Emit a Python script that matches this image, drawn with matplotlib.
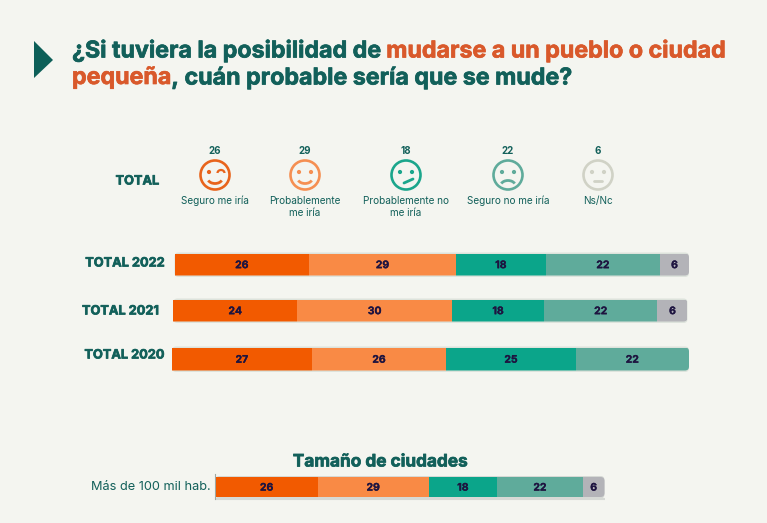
import matplotlib
matplotlib.use("Agg")
import matplotlib.pyplot as plt
import matplotlib.patheffects as pe
import numpy as np
from matplotlib.patches import Circle, Arc, FancyBboxPatch, Polygon

plt.rcParams['font.family'] = ['Inter', 'DejaVu Sans']

W, H = 767, 523
BG = "#F4F5F0"
DARK = "#12605A"
ACCENT = "#D9592B"
NAVY = "#1E1440"
colors = ["#F25A00", "#F98A45", "#0BA58A", "#5FAB9B", "#B3B3B8"]

# legend row
legend_names = ["Seguro me iría", "Probablemente\nme iría", "Probablemente no\nme iría", "Seguro no me iría", "Ns/Nc"]
legend_values = [26, 29, 18, 22, 6]
icon_colors = ["#E8641C", "#F58F52", "#1BA68C", "#5FAB9B", "#D0D2C6"]

# bar widths, labels are the rounded values
total_2022 = [26.45, 28.8, 17.7, 22.4, 5.7]
total_2021 = [24.1, 30.1, 17.9, 22.05, 5.84]
total_2020 = [27.0, 26.0, 25.0, 21.9]
city_100k = [26.4, 28.6, 17.7, 22.1, 5.6]

fig = plt.figure(figsize=(W / 100, H / 100), dpi=100, facecolor=BG)
bg = fig.add_axes([0, 0, 1, 1])
bg.set_xlim(0, W)
bg.set_ylim(H, 0)
bg.axis("off")

# the reference font is heavier than Inter bold, thicken it a bit
heavy = [pe.withStroke(linewidth=0.5, foreground=DARK)]


def draw_row(values, x0, x1, y0, y1, fs=7.5, shadow="#DDE3DC"):
    # pale edge behind the bar
    bg.add_patch(FancyBboxPatch((x0, y0 - 1), x1 - x0, y1 - y0 + 2.5,
                                boxstyle="round,pad=0,rounding_size=4",
                                fc=shadow, ec="none"))
    ax = fig.add_axes([x0 / W, 1 - y1 / H, (x1 - x0) / W, (y1 - y0) / H])
    ax.set_xlim(0, sum(values))
    ax.set_ylim(-0.5, 0.5)
    ax.axis("off")
    ax.patch.set_alpha(0)
    # rounded right end
    clip = FancyBboxPatch((-20, 0), x1 - x0 + 20, y1 - y0,
                          boxstyle="round,pad=0,rounding_size=4",
                          transform=matplotlib.transforms.Affine2D().translate(x0, H - y1),
                          fc="none", ec="none")
    left = 0
    for i, v in enumerate(values):
        b = ax.barh(0, v, left=left, height=1, color=colors[i], lw=0)[0]
        b.set_clip_path(clip)
        ax.text(left + v / 2, -0.03, str(round(v)), ha="center", va="center",
                fontsize=fs, fontweight="bold", color=NAVY,
                path_effects=[pe.withStroke(linewidth=0.2, foreground=NAVY)])
        left += v
    return ax


draw_row(total_2022, 174.5, 689, 253.5, 275.5)
draw_row(total_2021, 173.3, 687.5, 299.5, 321.5)
draw_row(total_2020, 172, 689, 347.5, 370.5)
draw_row(city_100k, 215.5, 604.5, 477, 497, shadow="#D6D9D5")
bg.plot([215, 604.5], [498.8, 498.8], color="#D6D9D5", lw=1.5, solid_capstyle="butt")
bg.plot([215, 215], [474, 499], color="#9FA8A3", lw=0.8)

# title, one piece per colour
bg.add_patch(Polygon([(34, 41), (53, 60), (34, 78)], closed=True, fc="#0D5F58", ec="none"))
title_lines = [
    (72, 51, [("¿Si tuviera la posibilidad de ", DARK), ("mudarse a un pueblo o ciudad", ACCENT)]),
    (72, 78, [("pequeña", ACCENT), (", cuán probable sería que se mude?", DARK)]),
]
TITLE_FS = 16.72
fig.canvas.draw()
rend = fig.canvas.get_renderer()
for x, y, parts in title_lines:
    for txt, col in parts:
        t = bg.text(x, y, txt, color=col, fontsize=TITLE_FS, fontweight="bold", va="center", ha="left",
                    path_effects=[pe.withStroke(linewidth=0.5, foreground=col)])
        # trailing spaces do not always count, so measure with a stop character
        probe = bg.text(0, 0, txt + "|", fontsize=TITLE_FS, fontweight="bold")
        bar = bg.text(0, 0, "|", fontsize=TITLE_FS, fontweight="bold")
        x += probe.get_window_extent(rend).width - bar.get_window_extent(rend).width
        probe.remove()
        bar.remove()

bg.text(137.5, 181.5, "TOTAL", ha="center", va="center", fontsize=9.2, fontweight="bold", color=DARK, path_effects=heavy)

# legend icons
icon_x = [215, 305, 406, 508, 598]
icon_y = 175
r = 14.5
for i, cx in enumerate(icon_x):
    c = icon_colors[i]
    bg.text(cx, 151, str(legend_values[i]), ha="center", va="center", fontsize=7, fontweight="bold", color=DARK)
    bg.text(cx, 207 if "\n" in legend_names[i] else 201, legend_names[i], ha="center", va="center",
            fontsize=7.2, color=DARK, linespacing=1.25)
    bg.add_patch(Circle((cx, icon_y), r, fc="none", ec=c, lw=1.9))
    bg.add_patch(Circle((cx - 6, icon_y - 3), 2.1, fc=c, ec="none"))
    if i == 0:  # wink
        bg.add_patch(Arc((cx + 6, icon_y - 2), 7, 6, theta1=180, theta2=360, ec=c, lw=1.6))
    else:
        bg.add_patch(Circle((cx + 6, icon_y - 3), 2.1, fc=c, ec="none"))
    if i in (0, 1):
        bg.add_patch(Arc((cx, icon_y + 3), 15, 11, theta1=20, theta2=160, ec=c, lw=2))
    elif i == 2:
        bg.plot([cx - 2, cx + 7], [icon_y + 8, icon_y + 4], color=c, lw=2, solid_capstyle="round")
    elif i == 3:
        bg.add_patch(Arc((cx, icon_y + 11), 15, 11, theta1=200, theta2=340, ec=c, lw=2))
    else:
        bg.plot([cx - 4, cx + 4], [icon_y + 6, icon_y + 6], color=c, lw=2, solid_capstyle="round")

# row labels
bg.text(125, 263.5, "TOTAL 2022", ha="center", va="center", fontsize=9.2, fontweight="bold", color=DARK, path_effects=heavy)
bg.text(120.5, 311.5, "TOTAL 2021", ha="center", va="center", fontsize=9.2, fontweight="bold", color=DARK, path_effects=heavy)
bg.text(124.5, 355.5, "TOTAL 2020", ha="center", va="center", fontsize=9.2, fontweight="bold", color=DARK, path_effects=heavy)
bg.text(380.5, 462, "Tamaño de ciudades", ha="center", va="center", fontsize=12.4, fontweight="bold", color=DARK, path_effects=heavy)
bg.text(211, 487.5, "Más de 100 mil hab.", ha="right", va="center", fontsize=9.2, color=DARK)

fig.savefig("out.png", dpi=100, facecolor=BG)
